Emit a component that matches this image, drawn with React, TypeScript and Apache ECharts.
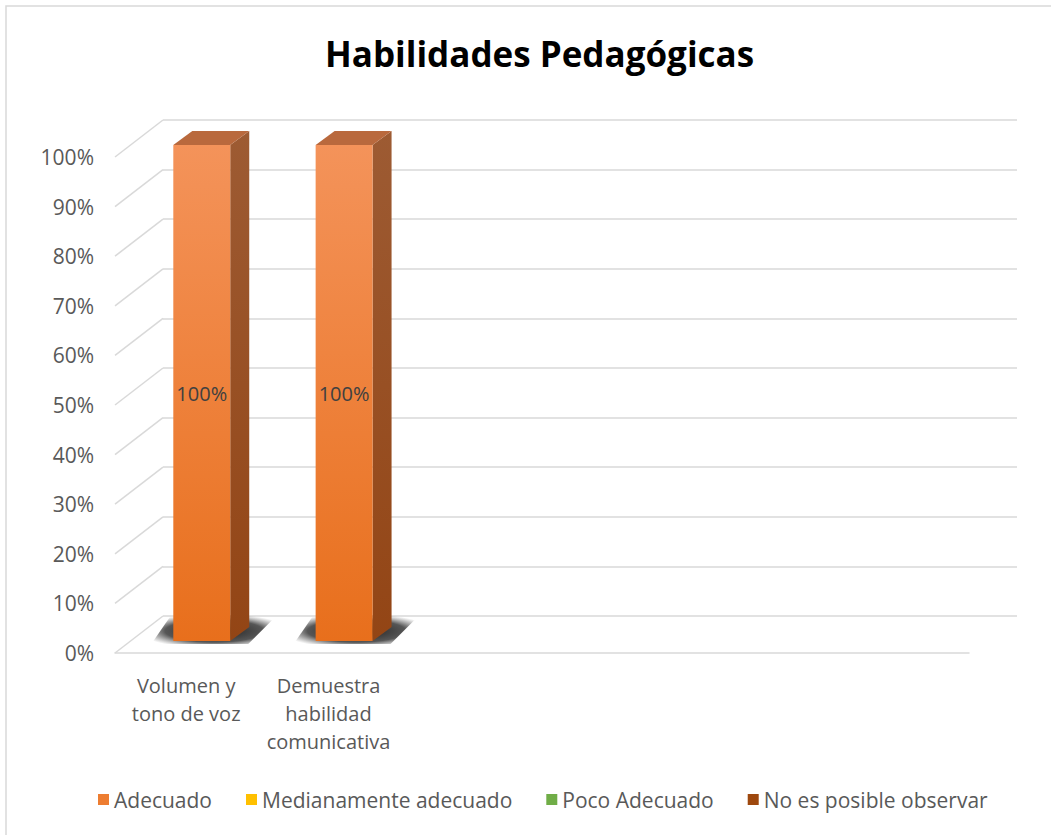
import React, { useEffect, useRef } from "react";
import * as echarts from "echarts";

const title = "Habilidades Pedagógicas";
const categories = ["Volumen y\ntono de voz", "Demuestra\nhabilidad\ncomunicativa", "", "", "", ""];
const seriesNames = ["Adecuado", "Medianamente adecuado", "Poco Adecuado", "No es posible observar"];
const adecuado = [1, 1, null, null, null, null];
const medianamente = [0, 0, null, null, null, null];
const poco = [0, 0, null, null, null, null];
const noPosible = [0, 0, null, null, null, null];
const yTicks = [0, 0.1, 0.2, 0.3, 0.4, 0.5, 0.6, 0.7, 0.8, 0.9, 1];

const palette = [
  { front: ["#f4935a", "#e86f1c"], side: ["#9d5b33", "#934515"], top: "#b9693d", legend: "#ed7d31" },
  { front: ["#ffd04d", "#f0b400"], side: ["#a88000", "#9a7400"], top: "#c99a10", legend: "#ffc000" },
  { front: ["#8cc068", "#649c3c"], side: ["#4a7a2a", "#416d24"], top: "#5c8a3a", legend: "#70ad47" },
  { front: ["#b4613a", "#9c470e"], side: ["#6a300a", "#5e2a08"], top: "#7c3a12", legend: "#9e480e" },
];

const FLOOR_DX = 48;
const FLOOR_DY = 37;
const FACE_SHIFT_X = 15.6;
const FACE_SHIFT_Y = 12;
const BAR_DX = 19;
const BAR_DY = 14;
const GRID_COLOR = "#d9d9d9";
const TEXT_COLOR = "#595959";
const FONT = "'Open Sans', Lato, sans-serif";

export default function App() {
  const ref = useRef<HTMLDivElement>(null);

  useEffect(() => {
    if (!ref.current) return;
    const chart = echarts.init(ref.current, null, { renderer: "svg" });
    const all = [adecuado, medianamente, poco, noPosible];

    const barSeries = all.map((vals, si) => {
      const data = categories.map((_, ci) => {
        let base = 0;
        for (let k = 0; k < si; k++) base += (all[k][ci] as number) || 0;
        return [ci, vals[ci] == null ? 0 : vals[ci], base];
      });
      const pal = palette[si];
      return {
        type: "custom",
        name: seriesNames[si],
        xAxisIndex: 1,
        yAxisIndex: 1,
        itemStyle: { color: pal.legend },
        z: 5,
        data,
        renderItem: (params: any, api: any) => {
          const cat = api.value(0);
          const v = api.value(1);
          const base = api.value(2);
          if (!v) return null;
          const top = api.coord([cat, base + v]);
          const bot = api.coord([cat, base]);
          const bw = api.size([1, 0])[0] / 2.5;
          const x0 = top[0] - bw / 2 + FACE_SHIFT_X;
          const x1 = x0 + bw;
          const yt = top[1] - FACE_SHIFT_Y;
          const yb = bot[1] - FACE_SHIFT_Y;
          const children: any[] = [];
          if (base === 0) {
            children.push({
              type: "polygon",
              shape: {
                points: [
                  [x0 - 22, yb + 3],
                  [x1 + 18, yb + 3],
                  [x1 + BAR_DX + 28, yb - BAR_DY - 12],
                  [x0 - 2, yb - BAR_DY - 12],
                ],
              },
              style: {
                fill: new echarts.graphic.RadialGradient(0.5, 0.55, 0.6, [
                  { offset: 0, color: "rgba(10,10,10,0.95)" },
                  { offset: 0.65, color: "rgba(30,30,30,0.75)" },
                  { offset: 1, color: "rgba(80,80,80,0)" },
                ]),
              },
            });
          }
          children.push(
            {
              type: "polygon",
              shape: { points: [[x1, yt], [x1 + BAR_DX, yt - BAR_DY], [x1 + BAR_DX, yb - BAR_DY], [x1, yb]] },
              style: {
                fill: new echarts.graphic.LinearGradient(0, 0, 0, 1, [
                  { offset: 0, color: pal.side[0] },
                  { offset: 1, color: pal.side[1] },
                ]),
              },
            },
            {
              type: "polygon",
              shape: { points: [[x0, yt], [x0 + BAR_DX, yt - BAR_DY], [x1 + BAR_DX, yt - BAR_DY], [x1, yt]] },
              style: { fill: pal.top },
            },
            {
              type: "rect",
              shape: { x: x0, y: yt, width: bw, height: yb - yt },
              style: {
                fill: new echarts.graphic.LinearGradient(0, 0, 0, 1, [
                  { offset: 0, color: pal.front[0] },
                  { offset: 1, color: pal.front[1] },
                ]),
              },
            },
            {
              type: "text",
              x: (x0 + x1) / 2,
              y: (yt + yb) / 2,
              style: {
                text: Math.round(v * 100) + "%",
                fill: "#404040",
                font: `20px ${FONT}`,
                align: "center",
                verticalAlign: "middle",
              },
            }
          );
          return { type: "group", children };
        },
      };
    });

    const option: any = {
      animation: false,
      backgroundColor: "#ffffff",
      title: {
        text: title,
        left: 320,
        top: 31,
        textStyle: { fontFamily: FONT, fontWeight: "bold", fontSize: 35, color: "#000000" },
      },
      legend: {
        data: seriesNames.map((n, i) => ({ name: n, itemStyle: { color: palette[i].legend } })),
        left: 93,
        top: 784,
        icon: "rect",
        itemWidth: 11,
        itemHeight: 11,
        itemGap: 34,
        textStyle: { fontFamily: FONT, fontSize: 21, color: TEXT_COLOR },
      },
      graphic: [
        {
          type: "rect",
          shape: { x: 6, y: 6, width: 1060, height: 840 },
          style: { fill: "none", stroke: GRID_COLOR, lineWidth: 1.5 },
          silent: true,
        },
      ],
      grid: [
        { left: 163, top: 120, width: 854, height: 496 },
        { left: 115, top: 157, width: 854, height: 496 },
      ],
      xAxis: [
        { type: "category", gridIndex: 0, data: categories, show: false },
        {
          type: "category",
          gridIndex: 1,
          data: categories,
          axisLine: { show: true, lineStyle: { color: GRID_COLOR, width: 1.5 } },
          axisTick: { show: false },
          axisLabel: {
            interval: 0,
            margin: 18,
            fontFamily: FONT,
            fontSize: 20,
            color: TEXT_COLOR,
            lineHeight: 28,
          },
        },
      ],
      yAxis: [
        {
          type: "value",
          gridIndex: 0,
          min: 0,
          max: 1,
          interval: 0.1,
          axisLabel: { show: false },
          axisLine: { show: false },
          axisTick: { show: false },
          splitLine: { show: true, lineStyle: { color: GRID_COLOR, width: 1.5 } },
        },
        {
          type: "value",
          gridIndex: 1,
          min: 0,
          max: 1,
          interval: 0.1,
          axisLine: { show: false },
          axisTick: { show: false },
          splitLine: { show: false },
          axisLabel: {
            margin: 21,
            fontFamily: FONT,
            fontSize: 21,
            color: TEXT_COLOR,
            formatter: (v: number) => Math.round(v * 100) + "%",
          },
        },
      ],
      series: [
        {
          type: "custom",
          xAxisIndex: 1,
          yAxisIndex: 1,
          silent: true,
          z: 1,
          data: yTicks.map((t) => [0, t]),
          renderItem: (params: any, api: any) => {
            const p = api.coord([0, api.value(1)]);
            const x = params.coordSys.x;
            return {
              type: "line",
              shape: { x1: x, y1: p[1], x2: x + FLOOR_DX, y2: p[1] - FLOOR_DY },
              style: { stroke: GRID_COLOR, lineWidth: 1.5 },
            };
          },
        },
        ...barSeries,
      ],
    };
    chart.setOption(option);
    return () => chart.dispose();
  }, []);

  return (
    <div
      ref={ref}
      style={{ position: "absolute", left: 0, top: 0, width: 1051, height: 835 }}
    />
  );
}
